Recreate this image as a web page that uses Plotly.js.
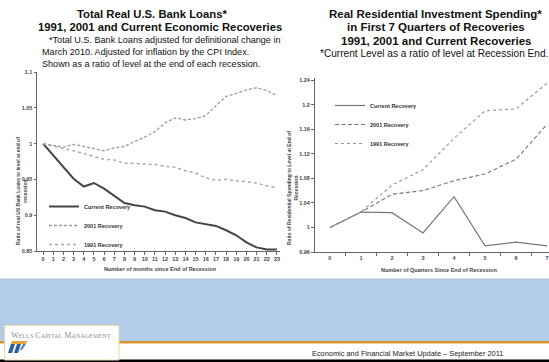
<!DOCTYPE html>
<html>
<head>
<meta charset="utf-8">
<script src="https://cdn.plot.ly/plotly-3.0.1.min.js"></script>
<style>html,body{margin:0;padding:0;background:#fff;}#chart{width:549px;height:362px;}</style>
</head>
<body>
<div id="chart"></div>
<script>
// ---- Data: left chart (months since end of recession) ----
const months = [0,1,2,3,4,5,6,7,8,9,10,11,12,13,14,15,16,17,18,19,20,21,22,23];
const loansCurrent = [1.000,0.984,0.968,0.951,0.940,0.945,0.937,0.927,0.917,0.914,0.912,0.907,0.905,0.900,0.896,0.890,0.887,0.885,0.879,0.872,0.862,0.855,0.852,0.852];
const loans2001 = [1.000,0.998,0.995,0.999,0.996,0.993,0.990,0.994,0.996,1.003,1.009,1.017,1.029,1.036,1.033,1.035,1.039,1.053,1.066,1.070,1.075,1.078,1.074,1.067];
const loans1991 = [1.000,0.996,0.993,0.990,0.986,0.981,0.978,0.977,0.973,0.972,0.972,0.971,0.968,0.967,0.962,0.959,0.952,0.949,0.950,0.948,0.946,0.945,0.941,0.938];
const leftYTicks = [0.85,0.9,0.95,1,1.05,1.1];
const leftYTickText = ['0.85','0.9','0.95','1','1.05','1.1'];

// ---- Data: right chart (quarters since end of recession) ----
const quarters = ['0','1','2','3','4','5','6','7'];
const resCurrent = [1.000,1.025,1.024,0.991,1.050,0.970,0.976,0.970];
const res2001 = [1.000,1.025,1.054,1.060,1.076,1.087,1.111,1.168];
const res1991 = [1.000,1.025,1.069,1.094,1.145,1.190,1.193,1.235];
const rightYTicks = [0.96,1,1.04,1.08,1.12,1.16,1.2,1.24];
const rightYTickText = ['0.96','1','1.04','1.08','1.12','1.16','1.2','1.24'];

const seriesNames = ['Current Recovery','2001 Recovery','1991 Recovery'];

// ---- helpers (pixel -> paper) ----
const W = 549, H = 362;
const px = x => x / W;
const py = y => 1 - y / H;

const FONT = 'Liberation Sans, Arial, sans-serif';
const tickFont = {family: FONT, size: 5.5, color: '#444', weight: 'bold'};

const traces = [
  {x: months, y: loansCurrent, name: seriesNames[0], xaxis: 'x', yaxis: 'y', legend: 'legend', mode: 'lines',
   line: {color: '#454545', width: 2, dash: 'solid'}},
  {x: months, y: loans2001, name: seriesNames[1], xaxis: 'x', yaxis: 'y', legend: 'legend', mode: 'lines',
   line: {color: '#9a9a9a', width: 1.3, dash: '3px,2px'}},
  {x: months, y: loans1991, name: seriesNames[2], xaxis: 'x', yaxis: 'y', legend: 'legend', mode: 'lines',
   line: {color: '#aaa', width: 1.5, dash: 'dot'}},
  {x: quarters, y: resCurrent, name: seriesNames[0], xaxis: 'x2', yaxis: 'y2', legend: 'legend2', mode: 'lines',
   line: {color: '#777', width: 1.2, dash: 'solid'}},
  {x: quarters, y: res2001, name: seriesNames[1], xaxis: 'x2', yaxis: 'y2', legend: 'legend2', mode: 'lines',
   line: {color: '#777', width: 1.1, dash: '4px,2.5px'}},
  {x: quarters, y: res1991, name: seriesNames[2], xaxis: 'x2', yaxis: 'y2', legend: 'legend2', mode: 'lines',
   line: {color: '#999', width: 1.2, dash: 'dot'}}
];

const axisCommon = {showgrid: false, zeroline: false, showline: true, linecolor: '#666', linewidth: 1,
  ticks: 'outside', ticklen: 2.5, tickcolor: '#666', tickfont: tickFont, fixedrange: true};

function ann(text, x, y, size, opts) {
  return Object.assign({text: text, x: px(x), y: py(y), xref: 'paper', yref: 'paper', showarrow: false,
    xanchor: 'center', yanchor: 'middle', font: {family: FONT, size: size, color: '#111'}}, opts || {});
}

function rect(x0, y0, x1, y1, fill, line) {
  return {type: 'rect', xref: 'paper', yref: 'paper', x0: px(x0), x1: px(x1), y0: py(y1), y1: py(y0),
    fillcolor: fill, line: line || {width: 0}, layer: 'above'};
}
function poly(pts, fill) {
  const d = pts.map((p, i) => (i ? 'L' : 'M') + px(p[0]) + ',' + py(p[1])).join(' ') + ' Z';
  return {type: 'path', xref: 'paper', yref: 'paper', path: d, fillcolor: fill, line: {width: 0}, layer: 'above'};
}

const layout = {
  width: W, height: H,
  margin: {l: 0, r: 0, t: 0, b: 0},
  paper_bgcolor: '#fff', plot_bgcolor: 'rgba(0,0,0,0)',
  font: {family: FONT},
  xaxis: Object.assign({}, axisCommon, {domain: [px(37), px(280)], range: [-0.6, 23.3], anchor: 'y',
    tickvals: months, ticktext: months.map(String)}),
  yaxis: Object.assign({}, axisCommon, {domain: [py(251), py(72)], range: [0.85, 1.1], anchor: 'x',
    tickvals: leftYTicks, ticktext: leftYTickText}),
  xaxis2: Object.assign({}, axisCommon, {domain: [px(315), 1], type: 'category', range: [-0.48, 7.06], anchor: 'y2',
    tickson: 'boundaries', ticklen: 3}),
  yaxis2: Object.assign({}, axisCommon, {domain: [py(252), py(78)], range: [0.96, 1.2433], anchor: 'x2',
    tickvals: rightYTicks, ticktext: rightYTickText, ticklen: 3}),
  legend: {x: px(44), y: py(192), xanchor: 'left', yanchor: 'top', bgcolor: 'rgba(0,0,0,0)',
    font: {family: FONT, size: 5.5, color: '#333', weight: 'bold'}, tracegroupgap: 0, itemwidth: 30},
  legend2: {x: px(330), y: py(91), xanchor: 'left', yanchor: 'top', bgcolor: 'rgba(0,0,0,0)',
    font: {family: FONT, size: 5.5, color: '#333', weight: 'bold'}, tracegroupgap: 0, itemwidth: 30},
  showlegend: true,
  annotations: [
    ann('<b>Total Real U.S. Bank Loans*</b>', 152, 14, 11.3),
    ann('<b>1991, 2001 and Current Economic Recoveries</b>', 159.5, 27, 11.3),
    ann('*Total U.S. Bank Loans adjusted for definitional change in', 165, 40, 9.1),
    ann('March 2010. Adjusted for inflation by the CPI Index.', 145, 52, 9.1),
    ann('Shown as a ratio of level at the end of each recession.', 151, 64, 9.1),
    ann('<b>Real Residential Investment Spending*</b>', 435.5, 14, 11.5),
    ann('<b>in First 7 Quarters of Recoveries</b>', 435.5, 27, 11.5),
    ann('<b>1991, 2001 and Current Recoveries</b>', 436, 41, 11.5),
    ann('*Current Level as a ratio of level at Recession End.', 434, 53, 10.1),
    ann('<b>Ratio of real US Bank Loans to level at end of<br>recession</b>', 21, 191, 5, {textangle: -90, font: {family: FONT, size: 5, color: '#444'}}),
    ann('<b>Number of months since End of Recession</b>', 160, 269, 5.5, {font: {family: FONT, size: 5.5, color: '#444'}}),
    ann('<b>Ratio of Residential Spending to Level at End of<br>Recession</b>', 292, 188, 5, {textangle: -90, font: {family: FONT, size: 5, color: '#444'}}),
    ann('<b>Number of Quarters Since End of Recession</b>', 439, 270, 5.5, {font: {family: FONT, size: 5.5, color: '#444'}}),
    ann('Economic and Financial Market Update – September 2011', 505, 353, 7.4, {xanchor: 'right', font: {family: FONT, size: 7.4, color: '#222'}}),
    ann('W<span style="font-size:6.2px">ELLS</span> C<span style="font-size:6.2px">APITAL</span> M<span style="font-size:6.2px">ANAGEMENT</span>', 61, 335, 8,
      {font: {family: 'Liberation Serif, serif', size: 8, color: '#8a8fa0'}})
  ],
  shapes: [
    rect(0, 279, 549, 341.5, '#b3cde9'),
    {type: 'line', xref: 'paper', yref: 'paper', x0: 0, x1: 1, y0: py(279), y1: py(279), line: {color: '#b8bcc2', width: 1}},
    rect(0, 341, 549, 343.5, '#d6962e'),
    rect(0, 359.5, 549, 362, '#000'),
    rect(4.5, 325.5, 119, 360, '#ffffff', {color: '#eed6a6', width: 1}),
    poly([[12, 341], [27, 341], [26, 344], [11, 344]], '#e9a43a'),
    poly([[11, 344], [15, 344], [12, 353], [8, 353]], '#2b5ea8'),
    poly([[17, 344], [21, 344], [18, 353], [14, 353]], '#2b5ea8'),
    poly([[23, 344], [26, 344], [22, 350], [20, 350]], '#4f7fc0')
  ]
};

Plotly.newPlot('chart', traces, layout, {staticPlot: true, displayModeBar: false});
</script>
</body>
</html>
